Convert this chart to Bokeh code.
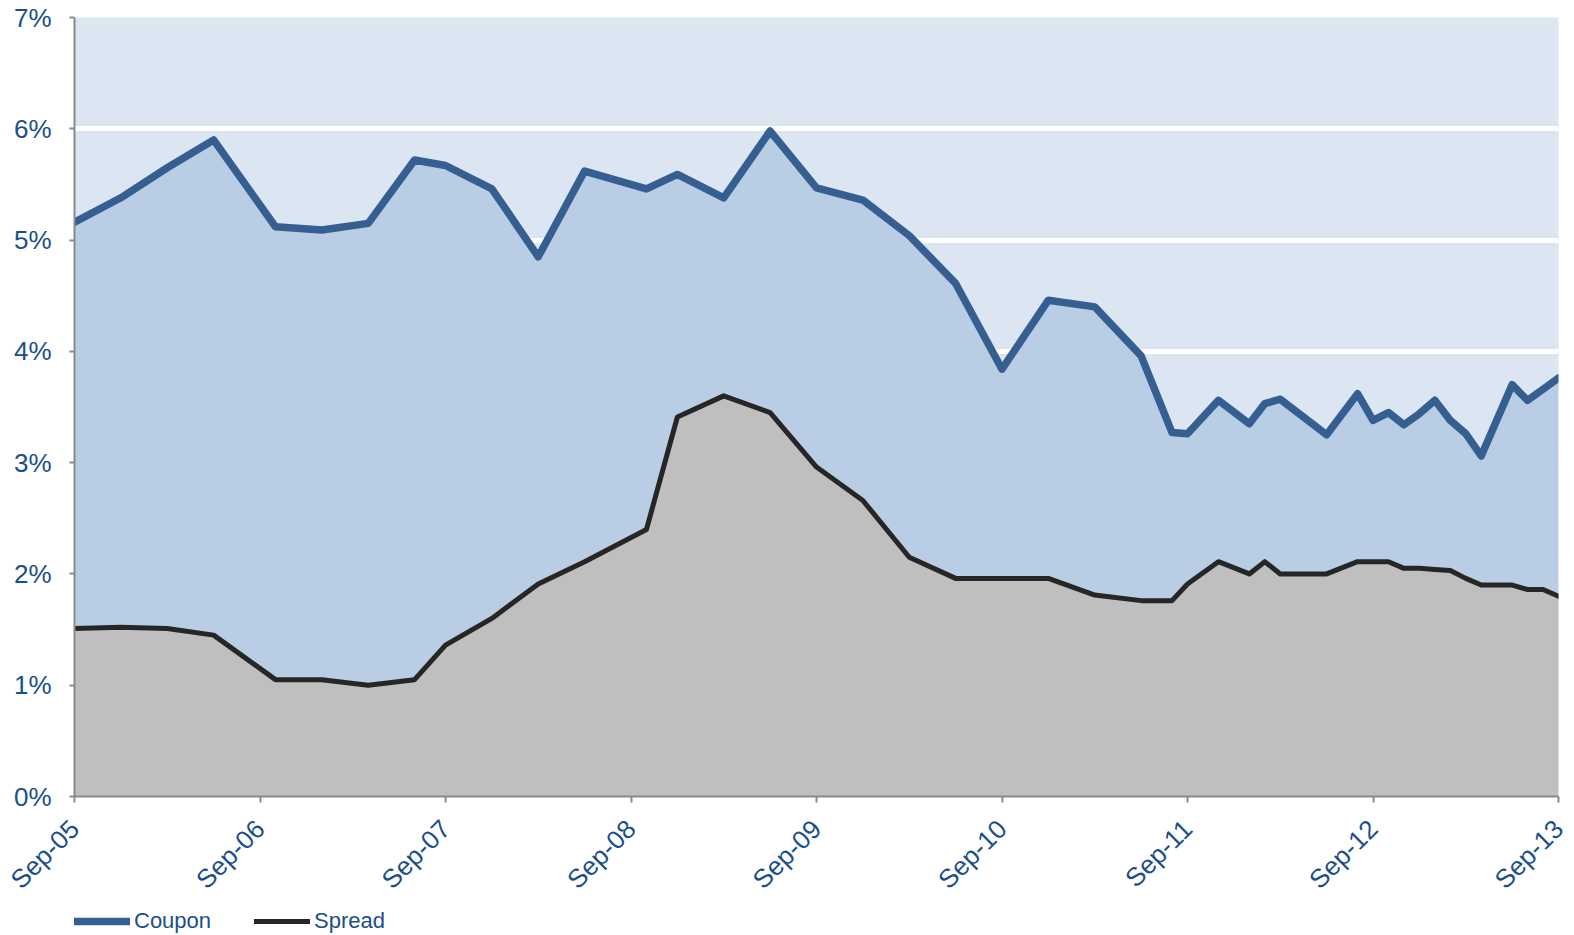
from bokeh.plotting import figure
from bokeh.models import Range1d, FixedTicker, Legend, LegendItem
from bokeh.layouts import column
from bokeh.embed import file_html
from bokeh.resources import INLINE

# months since Sep-05
months = [0, 3, 6, 9, 13, 16, 19, 22, 24, 27, 30, 33, 37, 39, 42, 45, 48, 51, 54, 57,
          60, 63, 66, 69, 71, 72, 74, 76, 77, 78, 81, 83, 84, 85, 86, 87, 88, 89, 90,
          91, 93, 94, 95, 96]
coupon = [5.16, 5.38, 5.65, 5.90, 5.12, 5.09, 5.15, 5.72, 5.67, 5.46, 4.85, 5.62, 5.46,
          5.59, 5.38, 5.98, 5.47, 5.36, 5.04, 4.61, 3.84, 4.46, 4.40, 3.96, 3.27, 3.26,
          3.56, 3.35, 3.53, 3.57, 3.25, 3.62, 3.38, 3.45, 3.34, 3.44, 3.56, 3.38, 3.26,
          3.06, 3.70, 3.56, 3.66, 3.76]
spread = [1.51, 1.52, 1.51, 1.45, 1.05, 1.05, 1.00, 1.05, 1.36, 1.60, 1.91, 2.11, 2.40,
          3.41, 3.60, 3.45, 2.96, 2.66, 2.15, 1.96, 1.96, 1.96, 1.81, 1.76, 1.76, 1.91,
          2.11, 2.00, 2.11, 2.00, 2.00, 2.11, 2.11, 2.11, 2.05, 2.05, 2.04, 2.03, 1.96,
          1.90, 1.90, 1.86, 1.86, 1.80]
x_tick_pos = [0, 12, 24, 36, 48, 60, 72, 84, 96]
x_tick_labels = ["Sep-05", "Sep-06", "Sep-07", "Sep-08", "Sep-09", "Sep-10",
                 "Sep-11", "Sep-12", "Sep-13"]
y_ticks = [0, 1, 2, 3, 4, 5, 6, 7]
y_tick_labels = ["0%", "1%", "2%", "3%", "4%", "5%", "6%", "7%"]
series_names = ["Coupon", "Spread"]

FONT = "Liberation Sans"
TXT = "#1b4f8c"
AX = "#8a8a8a"
C_COUPON = "#365f91"
C_SPREAD = "#262626"

p = figure(output_backend="svg", toolbar_location=None,
           frame_width=1484, frame_height=779,
           min_border_left=74, min_border_right=14, min_border_top=17,
           min_border_bottom=112,
           x_range=Range1d(0, 96), y_range=Range1d(0, 7))
p.background_fill_color = "#dce6f2"
p.border_fill_color = "white"
p.outline_line_color = None

p.xgrid.grid_line_color = None
p.ygrid.grid_line_color = "white"
p.ygrid.grid_line_width = 5
p.ygrid.ticker = FixedTicker(ticks=y_ticks)

p.varea(x=months, y1=0, y2=coupon, fill_color="#b9cde5")
p.varea(x=months, y1=0, y2=spread, fill_color="#bfbfbf")
p.line(months, coupon, line_color=C_COUPON, line_width=7.5,
       line_join="round", line_cap="round")
p.line(months, spread, line_color=C_SPREAD, line_width=5,
       line_join="round", line_cap="round")

yax = p.yaxis[0]
yax.ticker = FixedTicker(ticks=y_ticks)
yax.major_label_overrides = {t: s for t, s in zip(y_ticks, y_tick_labels)}
yax.major_label_text_font = FONT
yax.major_label_text_font_size = "26px"
yax.major_label_text_color = TXT
yax.major_label_standoff = 18
yax.axis_line_color = AX
yax.axis_line_width = 2
yax.major_tick_line_color = AX
yax.major_tick_line_width = 2
yax.major_tick_out = 5
yax.major_tick_in = 0
yax.minor_tick_line_color = None

xax = p.xaxis[0]
xax.ticker = FixedTicker(ticks=x_tick_pos)
xax.major_label_overrides = {t: s for t, s in zip(x_tick_pos, x_tick_labels)}
xax.major_label_orientation = 0.7853981634
xax.major_label_text_font = FONT
xax.major_label_text_font_size = "26px"
xax.major_label_text_color = TXT
xax.major_label_standoff = 22
xax.axis_line_color = AX
xax.axis_line_width = 2
xax.major_tick_line_color = AX
xax.major_tick_line_width = 2
xax.major_tick_out = 6
xax.major_tick_in = 0
xax.minor_tick_line_color = None

# legend row as a separate strip under the chart; its key lines sit outside the visible range
q = figure(output_backend="svg", toolbar_location=None,
           frame_width=1484, frame_height=27,
           min_border_left=74, min_border_right=14, min_border_top=0,
           min_border_bottom=0,
           x_range=Range1d(0, 1), y_range=Range1d(0, 1))
q.axis.visible = False
q.grid.visible = False
q.outline_line_color = None
q.background_fill_color = "white"
q.border_fill_color = "white"
r_coupon = q.line(x=[-5, -4], y=[-5, -5], line_color=C_COUPON, line_width=7.5,
                  line_cap="round")
r_spread = q.line(x=[-5, -4], y=[-5, -5], line_color=C_SPREAD, line_width=5,
                  line_cap="round")
legend = Legend(items=[LegendItem(label=series_names[0], renderers=[r_coupon]),
                       LegendItem(label=series_names[1], renderers=[r_spread])],
                location="top_left", orientation="horizontal",
                border_line_color=None, background_fill_alpha=0,
                padding=0, margin=0, spacing=43, label_standoff=4,
                glyph_width=56, glyph_height=24,
                label_text_font=FONT, label_text_font_size="22px",
                label_text_color=TXT)
q.add_layout(legend)

open("out.html", "w").write(file_html(column(p, q, spacing=0), INLINE))
